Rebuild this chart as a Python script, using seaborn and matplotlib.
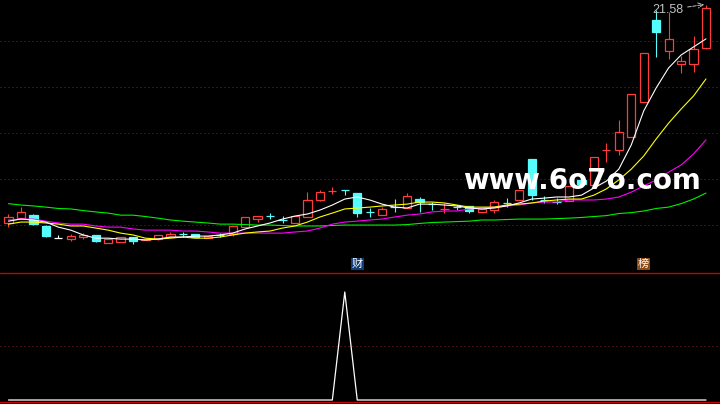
import matplotlib
matplotlib.use("Agg")
import matplotlib.pyplot as plt
import seaborn as sns
import pandas as pd

# daily candles
opens = [12.09, 12.30, 12.43, 11.96, 11.43, 11.39, 11.48, 11.57, 11.22, 11.26,
         11.48, 11.35, 11.39, 11.48, 11.62, 11.61, 11.43, 11.57, 11.61, 11.91,
         12.26, 12.40, 12.23, 12.09, 12.35, 13.09, 13.47, 13.53, 13.39, 12.58,
         12.43, 12.79, 12.74, 13.13, 12.92, 12.69, 12.79, 12.83, 12.57, 12.65,
         12.97, 13.09, 14.87, 13.10, 13.01, 13.04, 13.96, 13.74, 15.25, 15.26,
         15.83, 17.35, 20.91, 19.57, 19.00, 19.00, 19.70]
highs = [12.48, 12.78, 12.48, 12.00, 11.57, 11.61, 11.65, 11.57, 11.39, 11.48,
         11.48, 11.39, 11.57, 11.70, 11.70, 11.61, 11.52, 11.65, 11.96, 12.35,
         12.39, 12.52, 12.39, 12.39, 13.43, 13.52, 13.65, 13.53, 13.39, 12.74,
         12.78, 13.13, 13.39, 13.22, 13.00, 12.96, 12.87, 12.83, 12.70, 13.09,
         13.17, 13.52, 14.87, 13.26, 13.17, 13.70, 14.09, 14.96, 15.57, 16.57,
         17.70, 19.48, 21.35, 21.26, 19.35, 20.22, 21.58]
lows = [11.91, 12.30, 12.00, 11.48, 11.43, 11.30, 11.39, 11.26, 11.22, 11.26,
        11.17, 11.35, 11.35, 11.48, 11.48, 11.48, 11.43, 11.48, 11.52, 11.90,
        12.13, 12.26, 12.09, 12.09, 12.35, 13.04, 13.35, 13.30, 12.35, 12.35,
        12.43, 12.57, 12.74, 12.57, 12.65, 12.52, 12.65, 12.52, 12.57, 12.52,
        12.78, 13.09, 13.09, 12.96, 12.91, 13.04, 13.78, 13.74, 14.74, 15.04,
        15.83, 17.35, 19.30, 19.22, 18.61, 18.65, 19.66]
closes = [12.35, 12.57, 12.04, 11.52, 11.43, 11.52, 11.57, 11.30, 11.39, 11.48,
          11.30, 11.39, 11.57, 11.61, 11.61, 11.48, 11.52, 11.56, 11.96, 12.35,
          12.39, 12.39, 12.22, 12.39, 13.09, 13.43, 13.48, 13.52, 12.52, 12.57,
          12.70, 12.78, 13.26, 13.00, 12.91, 12.70, 12.78, 12.61, 12.70, 13.00,
          12.96, 13.52, 13.30, 13.09, 13.00, 13.70, 13.78, 14.96, 15.26, 16.04,
          17.70, 19.48, 20.39, 20.09, 19.13, 19.65, 21.43]

# moving averages as drawn on the chart
ma5 = [12.17, 12.26, 12.22, 12.13, 11.91, 11.78, 11.57, 11.43, 11.43, 11.39,
       11.39, 11.35, 11.39, 11.48, 11.48, 11.52, 11.52, 11.57, 11.65, 11.83,
       11.96, 12.09, 12.26, 12.39, 12.48, 12.65, 12.87, 13.13, 13.22, 13.09,
       12.91, 12.78, 12.74, 12.91, 12.91, 12.87, 12.83, 12.74, 12.70, 12.74,
       12.83, 12.96, 13.13, 13.17, 13.22, 13.22, 13.30, 13.61, 13.91, 14.43,
       15.48, 16.96, 17.96, 18.83, 19.39, 19.74, 20.09]
ma10 = [12.04, 12.13, 12.13, 12.09, 12.04, 11.96, 11.96, 11.87, 11.78, 11.65,
        11.57, 11.43, 11.39, 11.43, 11.48, 11.43, 11.43, 11.48, 11.57, 11.65,
        11.70, 11.74, 11.87, 11.96, 12.13, 12.35, 12.52, 12.70, 12.74, 12.78,
        12.83, 12.87, 12.91, 13.00, 13.00, 12.96, 12.87, 12.78, 12.78, 12.78,
        12.87, 12.91, 12.96, 13.04, 13.09, 13.13, 13.13, 13.30, 13.57, 13.96,
        14.43, 15.00, 15.74, 16.43, 17.04, 17.61, 18.35]
ma20 = [12.22, 12.26, 12.26, 12.17, 12.09, 12.04, 12.04, 11.96, 11.91, 11.91,
        11.83, 11.78, 11.78, 11.78, 11.74, 11.74, 11.70, 11.65, 11.65, 11.65,
        11.65, 11.65, 11.65, 11.70, 11.74, 11.87, 12.04, 12.13, 12.17, 12.22,
        12.26, 12.35, 12.43, 12.48, 12.57, 12.61, 12.61, 12.70, 12.74, 12.78,
        12.83, 12.87, 12.96, 13.00, 13.00, 13.09, 13.09, 13.09, 13.13, 13.22,
        13.43, 13.70, 13.96, 14.30, 14.61, 15.09, 15.70]
ma60 = [12.93, 12.87, 12.83, 12.78, 12.72, 12.70, 12.63, 12.57, 12.52, 12.43,
        12.43, 12.37, 12.30, 12.22, 12.17, 12.13, 12.09, 12.04, 12.04, 12.02,
        12.00, 12.00, 11.98, 11.96, 11.96, 11.96, 11.98, 12.00, 12.00, 12.00,
        12.00, 12.00, 12.02, 12.07, 12.11, 12.13, 12.15, 12.17, 12.22, 12.22,
        12.24, 12.26, 12.26, 12.26, 12.28, 12.30, 12.33, 12.37, 12.41, 12.50,
        12.54, 12.61, 12.72, 12.78, 12.93, 13.13, 13.39]

# lower indicator panel
signal = [0, 0, 0, 0, 0, 0, 0, 0, 0, 0, 0, 0, 0, 0, 0, 0, 0, 0, 0, 0,
          0, 0, 0, 0, 0, 0, 0, 1, 0, 0, 0, 0, 0, 0, 0, 0, 0, 0, 0, 0,
          0, 0, 0, 0, 0, 0, 0, 0, 0, 0, 0, 0, 0, 0, 0, 0, 0]

price_grid = [20, 18, 16, 14, 12]
high_label = "21.58"
marks = [(28, "财", "#123c78"), (51, "榜", "#8a4a12")]

UP = "#ff3c3c"
DOWN = "#54fcfc"
GRID = "#8c1c1c"
SEP = "#c80000"

sns.set_style("dark", {"axes.facecolor": "black", "figure.facecolor": "black"})
plt.rcParams["font.family"] = ["Noto Sans CJK SC", "DejaVu Sans"]

df = pd.DataFrame({
    "bar": range(len(closes)),
    "open": opens, "high": highs, "low": lows, "close": closes,
    "ma5": ma5, "ma10": ma10, "ma20": ma20, "ma60": ma60,
    "signal": signal,
})

fig = plt.figure(figsize=(7.2, 4.04), dpi=100)
ax = fig.add_axes([0, 132 / 404, 1, 272 / 404])
ax2 = fig.add_axes([0, 0, 1, 132 / 404])

# dotted price levels
for lvl in price_grid:
    ax.axhline(lvl, color=GRID, lw=0.72, ls=(0, (1, 3)), zorder=0)

# candles
w = 0.66
for r in df.itertuples():
    top = max(r.open, r.close)
    bot = min(r.open, r.close)
    if r.close > r.open:
        col, face = UP, "black"
    elif r.close < r.open:
        col, face = DOWN, DOWN
    else:
        col, face = "white", "white"
    ax.vlines(r.bar, top, r.high, color=col, lw=0.8, zorder=2)
    ax.vlines(r.bar, r.low, bot, color=col, lw=0.8, zorder=2)
    if top == bot:
        ax.hlines(top, r.bar - w / 2, r.bar + w / 2, color=col, lw=0.9, zorder=2)
    else:
        ax.bar(r.bar, top - bot, bottom=bot, width=w, facecolor=face,
               edgecolor=col, lw=0.9, zorder=2)

# moving averages
for col, c in [("ma60", "#00f000"), ("ma20", "#ff00ff"), ("ma10", "#ffff00"), ("ma5", "white")]:
    sns.lineplot(data=df, x="bar", y=col, color=c, lw=0.8, ax=ax, zorder=3)

# highest price marker
last = df.iloc[-1]
ax.annotate(high_label, xy=(last.bar - 0.15, last.high), xytext=(54.15, 21.35),
            ha="right", va="center", color="#c0c0c0", fontsize=9,
            family=["Liberation Sans", "DejaVu Sans"],
            arrowprops=dict(arrowstyle="->", color="#c0c0c0", lw=0.7, ls="--",
                            shrinkA=1, shrinkB=0))

# event marks at the bottom of the price panel
for b, txt, bg in marks:
    ax.text(b, 10.30, txt, ha="center", va="center", color="white", fontsize=8,
            bbox=dict(boxstyle="square,pad=0.08", facecolor=bg, edgecolor="none"),
            zorder=4)

# watermark
ax.text(46.05, 13.91, "www.6o7o.com", ha="center", va="center", color="white",
        fontsize=20, fontweight="bold", family="DejaVu Sans", zorder=6)

ax.set_xlim(-0.682, 57.125)
ax.set_ylim(9.96, 21.78)

# indicator panel
ax2.axhline(0.5, color=GRID, lw=0.72, ls=(0, (1, 3)), zorder=0)
sns.lineplot(data=df, x="bar", y="signal", color="white", lw=0.9, ax=ax2, zorder=3)
ax2.axhline(1.175, color=SEP, lw=1.0, zorder=4)
ax2.axhline(-0.0185, color=SEP, lw=1.0, zorder=4)
ax2.set_xlim(-0.682, 57.125)
ax2.set_ylim(-0.037, 1.185)

for a in (ax, ax2):
    a.set_xticks([])
    a.set_yticks([])
    a.set_xlabel("")
    a.set_ylabel("")
    a.grid(False)
    for s in a.spines.values():
        s.set_visible(False)

fig.savefig("out.png", dpi=100, facecolor="black")
